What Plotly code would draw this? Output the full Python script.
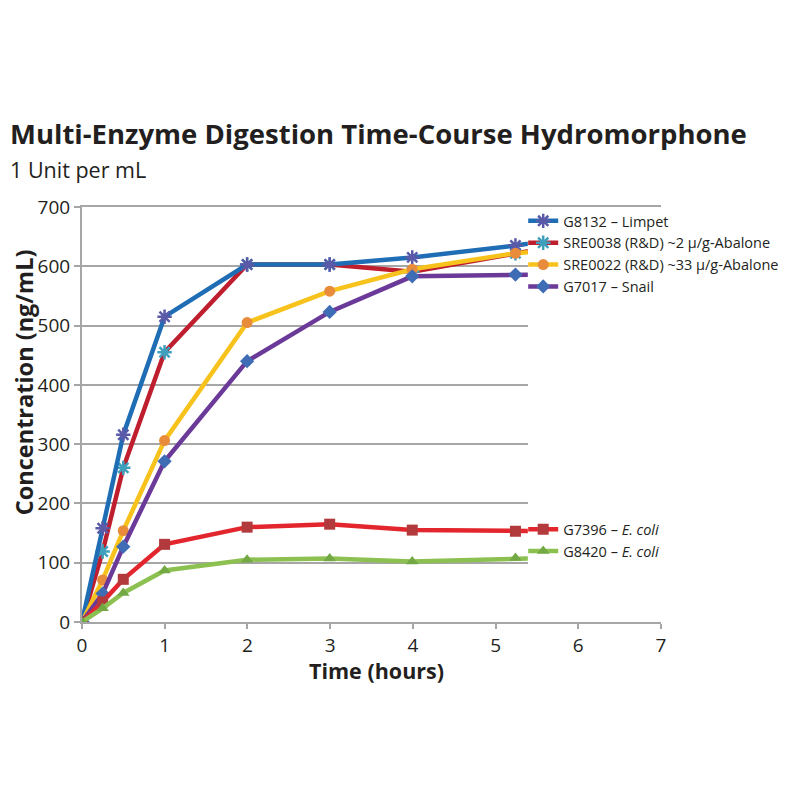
import plotly.graph_objects as go

# Time points (hours) and concentrations (ng/mL)
times = [0, 0.25, 0.5, 1, 2, 3, 4, 5.25, 6]
limpet = [0, 158, 316, 515, 603, 603, 615, 635, 650]
sre0038 = [0, 119, 260, 455, 603, 603, 591, 622, 640]
sre0022 = [0, 71, 154, 306, 505, 558, 595, 622, 630]
snail = [0, 48, 127, 271, 440, 523, 583, 586, 587]
g7396 = [0, 34, 72, 131, 160, 165, 155, 153, 153]
g8420 = [0, 23, 49, 87, 105, 107, 102, 108, 109]

# name, values, line colour, marker colour, marker, legend, legend position
series = [
    ("SRE0038 (R&amp;D) ~2 μ/g-Abalone", sre0038, "#be1e2d", "#3fa0bd", "asterisk-open", "legend", 2),
    ("G8132 – Limpet", limpet, "#1f6db5", "#5a5aa8", "asterisk-open", "legend", 1),
    ("SRE0022 (R&amp;D) ~33 μ/g-Abalone", sre0022, "#f8c21c", "#e88b3a", "circle", "legend", 3),
    ("G7017 – Snail", snail, "#6b3a99", "#3f6db5", "diamond", "legend", 4),
    ("G7396 – <i>E. coli</i>", g7396, "#e3262d", "#b23a3c", "square", "legend2", 5),
    ("G8420 – <i>E. coli</i>", g8420, "#8cc152", "#73a944", "triangle-up", "legend2", 6),
]

font = "Open Sans"
grid = "#a6a6a6"

fig = go.Figure()
for name, vals, lc, mc, sym, lg, rank in series:
    asterisk = sym.startswith("asterisk")
    fig.add_trace(go.Scatter(
        x=times, y=vals, name=name, mode="lines+markers", legend=lg, legendrank=rank,
        line=dict(color=lc, width=4.5),
        marker=dict(symbol=sym, size=12 if asterisk else 11, color=mc,
                    line=dict(color=mc, width=2.5 if asterisk else 0)),
    ))

# invisible helper so the full 0-7 time axis (and value axis) gets drawn
fig.add_trace(go.Scatter(x=times[:1], y=limpet[:1], xaxis="x2", yaxis="y2", mode="markers",
                         marker=dict(opacity=0), showlegend=False, hoverinfo="skip"))

fig.update_layout(
    width=800, height=800,
    paper_bgcolor="white", plot_bgcolor="rgba(0,0,0,0)",
    margin=dict(l=74, r=147, t=199, b=186),
    font=dict(family=font, color="#231f20", size=16),
    showlegend=True,
    # data area, clipped at about 5.4 h like the original
    xaxis=dict(domain=[0, 0.77], range=[0, 5.4], showgrid=False, showticklabels=False,
               zeroline=False, showline=False, ticks="", automargin=False),
    yaxis=dict(range=[0, 700], dtick=100, showgrid=True, gridcolor=grid, gridwidth=2,
               zeroline=False, showline=False, showticklabels=False, ticks="",
               automargin=False),
    # full axes with ticks
    xaxis2=dict(domain=[0, 1], range=[0, 7], anchor="y2", dtick=1, showgrid=False,
                zeroline=False, showline=True, mirror=True, linecolor=grid, linewidth=2,
                ticks="outside", ticklen=5, tickcolor=grid, tickwidth=2,
                tickfont=dict(size=19), automargin=False),
    yaxis2=dict(anchor="x2", range=[0, 700], dtick=100, showgrid=False,
                zeroline=False, showline=True, linecolor=grid, linewidth=2,
                ticks="outside", ticklen=6, tickcolor=grid, tickwidth=2,
                tickfont=dict(size=19), automargin=False),
    legend=dict(x=0.762, y=1.005, xanchor="left", yanchor="top", bgcolor="rgba(0,0,0,0)",
                font=dict(size=14.5), tracegroupgap=0),
    legend2=dict(x=0.762, y=0.262, xanchor="left", yanchor="top", bgcolor="rgba(0,0,0,0)",
                 font=dict(size=14.5), tracegroupgap=0),
    annotations=[
        dict(text="<b>Multi-Enzyme Digestion Time-Course Hydromorphone</b>",
             xref="paper", yref="paper", x=-0.128, y=1.178, xanchor="left", yanchor="middle",
             showarrow=False, font=dict(size=27.5)),
        dict(text="1 Unit per mL",
             xref="paper", yref="paper", x=-0.128, y=1.09, xanchor="left", yanchor="middle",
             showarrow=False, font=dict(size=21.5)),
        dict(text="<b>Concentration (ng/mL)</b>", textangle=-90,
             xref="paper", yref="paper", x=-0.1, y=0.578, xanchor="center", yanchor="middle",
             showarrow=False, font=dict(size=23.5)),
        dict(text="<b>Time (hours)</b>",
             xref="paper", yref="paper", x=0.508, y=-0.118, xanchor="center", yanchor="middle",
             showarrow=False, font=dict(size=21.5)),
    ],
)

fig.write_html("out.html")
